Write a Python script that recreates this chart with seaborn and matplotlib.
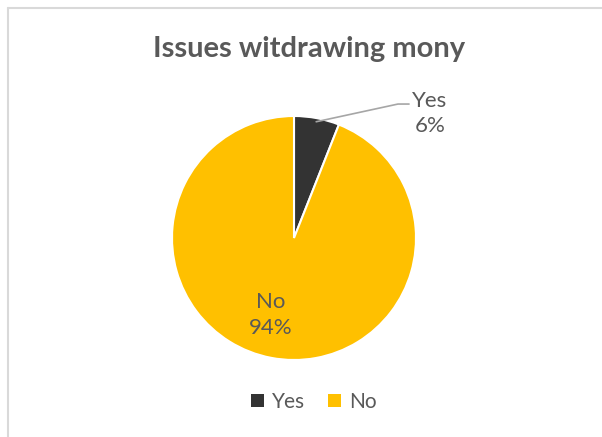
import matplotlib
matplotlib.use("Agg")
import matplotlib.pyplot as plt
from matplotlib.lines import Line2D
from matplotlib.patches import Patch
import numpy as np
import seaborn as sns

# Survey answers
categories = ["Yes", "No"]
shares = [6, 94]
colors = ["#333333", "#FFC000"]

sns.set_theme(style="white")
plt.rcParams["font.family"] = ["Lato", "DejaVu Sans"]
text_color = "#595959"

fig = plt.figure(figsize=(6.02, 4.37), dpi=100)
fig.patch.set_facecolor("white")

# Chart frame (top and left edges visible)
fig.add_artist(Line2D([8 / 602, 1.0], [1 - 8 / 437, 1 - 8 / 437], color="#D9D9D9", lw=1.5))
fig.add_artist(Line2D([8 / 602, 8 / 602], [0.0, 1 - 8 / 437], color="#D9D9D9", lw=1.5))

ax = fig.add_axes([172 / 602, 77 / 437, 244 / 602, 244 / 437])
wedges, _ = ax.pie(
    shares,
    colors=colors,
    startangle=90,
    counterclock=False,
    radius=1.0,
    wedgeprops=dict(edgecolor="white", linewidth=1.5),
)
ax.set_xlim(-1, 1)
ax.set_ylim(-1, 1)
ax.set_aspect("equal")
ax.axis("off")

# Labels
total = sum(shares)
yes_mid = np.deg2rad(90 - 360 * shares[0] / total / 2)
start = (0.97 * np.cos(yes_mid), 0.97 * np.sin(yes_mid))
ax.add_line(Line2D([start[0], 0.852, 0.943], [start[1], 1.098, 1.098],
                   color="#A6A6A6", lw=1.2, clip_on=False))
ax.text(1.115, 1.02, f"{categories[0]}\n{shares[0]}%", ha="center", va="center",
        fontsize=16, color=text_color, linespacing=1.35, clip_on=False)
ax.text(-0.19, -0.63, f"{categories[1]}\n{shares[1]}%", ha="center", va="center",
        fontsize=16, color=text_color, linespacing=1.35)

fig.text(0.513, 1 - 49 / 437, "Issues witdrawing mony", ha="center", va="center",
         fontsize=21, fontweight="bold", color=text_color)

handles = [Patch(facecolor=c, edgecolor="none") for c in colors]
fig.legend(handles, categories, loc="center", bbox_to_anchor=(314 / 602, 1 - 402 / 437),
           ncol=2, frameon=False, fontsize=15, labelcolor=text_color,
           handlelength=0.6, handleheight=0.6, handletextpad=0.4, columnspacing=1.1)

fig.savefig("out.png", dpi=100, facecolor="white")
